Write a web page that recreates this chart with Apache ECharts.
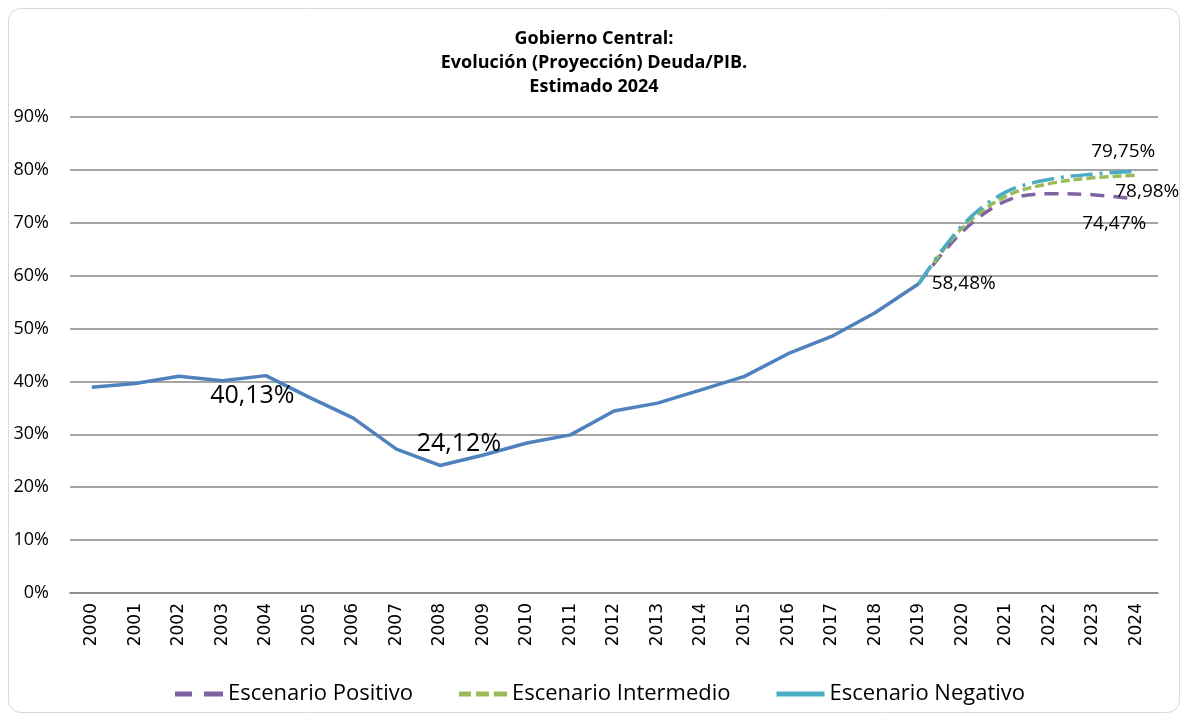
<!DOCTYPE html>
<html>
<head>
<meta charset="utf-8">
<script src="https://cdn.jsdelivr.net/npm/echarts@6/dist/echarts.min.js"></script>
<style>
html,body{margin:0;padding:0;background:#fff;}
#chart{width:1188px;height:721px;}
</style>
</head>
<body>
<div id="chart"></div>
<script>
const years = ['2000','2001','2002','2003','2004','2005','2006','2007','2008','2009','2010','2011','2012','2013','2014','2015','2016','2017','2018','2019','2020','2021','2022','2023','2024'];
const historico = [38.9, 39.6, 41.0, 40.13, 41.1, 37.0, 33.1, 27.2, 24.12, 26.1, 28.35, 29.9, 34.4, 35.9, 38.4, 40.95, 45.25, 48.5, 53.0, 58.48];
const positivo = [58.48, 68.3, 74.1, 75.5, 75.3, 74.47];
const intermedio = [58.48, 69.0, 75.0, 77.4, 78.5, 78.98];
const negativo = [58.48, 69.5, 75.8, 78.2, 79.2, 79.75];
const seriesNames = ['Escenario Positivo', 'Escenario Intermedio', 'Escenario Negativo'];
const titleLines = ['Gobierno Central:', 'Evolución (Proyección) Deuda/PIB.', 'Estimado 2024'];

const fmt = v => v.toFixed(2).replace('.', ',') + '%';
const FONT = 'Open Sans';
const lblBase = {show: true, color: '#000', fontFamily: FONT, formatter: p => fmt(p.value)};

function padProj(arr) {
  const out = [];
  for (let i = 0; i < years.length - arr.length; i++) out.push(null);
  return out.concat(arr);
}
function padHist(arr) {
  const out = arr.slice();
  while (out.length < years.length) out.push(null);
  return out;
}
function labeled(v, lbl) {
  return {value: v, symbol: 'circle', symbolSize: 0.01, label: Object.assign({}, lblBase, lbl)};
}

const histData = padHist(historico).map((v, i) => {
  if (i === 3) return labeled(v, {position: 'bottom', distance: 3, offset: [30, 0], fontSize: 25});
  if (i === 8) return labeled(v, {position: 'top', distance: 9, offset: [19, 0], fontSize: 25});
  if (i === 19) return labeled(v, {position: 'right', distance: 13, offset: [0, 0], fontSize: 19});
  return v;
});
function projData(arr, lbl) {
  const d = padProj(arr);
  const last = d.length - 1;
  return d.map((v, i) => i === last ? labeled(v, lbl) : v);
}

const chart = echarts.init(document.getElementById('chart'));
chart.setOption({
  backgroundColor: '#fff',
  animation: false,
  title: {
    text: titleLines.join('\n'),
    left: 'center',
    top: 22,
    textStyle: {fontFamily: FONT, fontWeight: 'bold', fontSize: 18, lineHeight: 24, color: '#000'}
  },
  graphic: [{
    type: 'rect', silent: true, z: -10,
    shape: {x: 8.5, y: 8.5, width: 1171, height: 704, r: 12},
    style: {fill: 'none', stroke: '#d9d9d9', lineWidth: 1}
  }],
  legend: {
    data: [
      {name: seriesNames[0], icon: 'path://M0,0H17V5H0Z M29,0H48V5H29Z', itemStyle: {color: '#8064A2'}},
      {name: seriesNames[1], icon: 'path://M0,0H12V5H0Z M17,0H30V5H17Z M35,0H48V5H35Z', itemStyle: {color: '#9BBB59'}},
      {name: seriesNames[2], icon: 'path://M6,0H48V5H6Z', itemStyle: {color: '#4BACC6'}}
    ],
    bottom: 11,
    left: 170,
    itemWidth: 48,
    itemHeight: 5,
    itemGap: 46,
    symbolKeepAspect: false,
    textStyle: {fontFamily: FONT, fontSize: 22, color: '#000'}
  },
  grid: {left: 70, right: 30, top: 117, bottom: 128, containLabel: false},
  xAxis: {
    type: 'category',
    data: years,
    boundaryGap: true,
    axisLine: {lineStyle: {color: '#868686', width: 1.5}},
    axisTick: {show: false},
    axisLabel: {rotate: 90, fontFamily: 'DejaVu Sans', fontSize: 17, color: '#000', margin: 10}
  },
  yAxis: {
    type: 'value',
    min: 0, max: 90, interval: 10,
    axisLine: {show: false},
    axisTick: {show: false},
    splitLine: {lineStyle: {color: '#868686', width: 1.5}},
    axisLabel: {formatter: '{value}%', fontFamily: FONT, fontSize: 18, color: '#000', margin: 21}
  },
  series: [
    {
      name: 'Histórico', type: 'line', data: histData, symbol: 'none',
      lineStyle: {color: '#4F81BD', width: 3.5}, itemStyle: {color: '#4F81BD'}, z: 2
    },
    {
      name: seriesNames[0], type: 'line', data: projData(positivo, {position: 'bottom', distance: 5, offset: [-22, 10], fontSize: 19}),
      symbol: 'none', smooth: 0.35,
      lineStyle: {color: '#8064A2', width: 3.5, type: [14, 9]}, itemStyle: {color: '#8064A2'}, z: 3
    },
    {
      name: seriesNames[1], type: 'line', data: projData(intermedio, {position: 'right', distance: 5, offset: [-26, 16], fontSize: 19}),
      symbol: 'none', smooth: 0.35,
      lineStyle: {color: '#9BBB59', width: 3.5, type: [9, 4]}, itemStyle: {color: '#9BBB59'}, z: 4
    },
    {
      name: seriesNames[2], type: 'line', data: projData(negativo, {position: 'top', distance: 6, offset: [-13, -4], fontSize: 19}),
      symbol: 'none', smooth: 0.35,
      lineStyle: {color: '#4BACC6', width: 3.5, type: [22, 7, 3, 7]}, itemStyle: {color: '#4BACC6'}, z: 5
    }
  ]
});
</script>
</body>
</html>
